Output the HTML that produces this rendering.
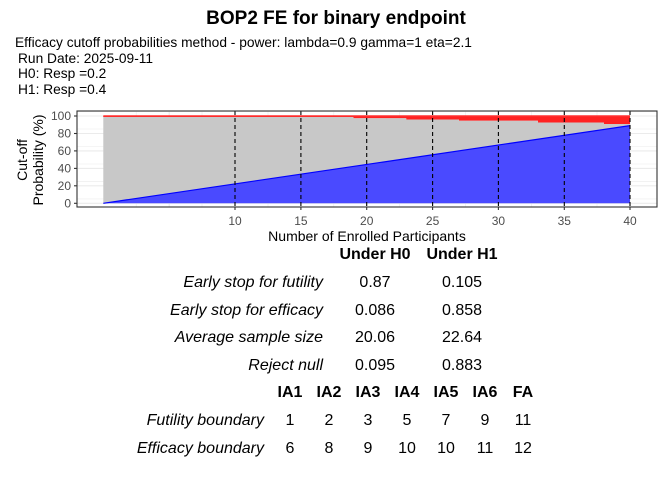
<!DOCTYPE html>
<html><head><meta charset="utf-8"><style>
html,body{margin:0;padding:0;background:#fff;}
svg{display:block;font-family:"Liberation Sans",Arial,sans-serif;}
</style></head><body>
<svg width="672" height="480" viewBox="0 0 672 480" xmlns="http://www.w3.org/2000/svg">
<rect width="672" height="480" fill="#fff"/>
<text x="336" y="24" font-size="19" font-weight="bold" text-anchor="middle">BOP2 FE for binary endpoint</text>
<g font-size="13.75" fill="#000">
<text x="15" y="47">Efficacy cutoff probabilities method - power: lambda=0.9 gamma=1 eta=2.1</text>
<text x="18" y="63">Run Date: 2025-09-11</text>
<text x="18" y="78">H0: Resp =0.2</text>
<text x="18" y="94">H1: Resp =0.4</text>
</g>
<g stroke="#ebebeb" stroke-width="0.6">
<line x1="77" x2="657" y1="198.9" y2="198.9"/><line x1="77" x2="657" y1="181.4" y2="181.4"/><line x1="77" x2="657" y1="164" y2="164"/><line x1="77" x2="657" y1="146.5" y2="146.5"/><line x1="77" x2="657" y1="129" y2="129"/><line x1="77" x2="657" y1="111.6" y2="111.6"/>
<line y1="111" y2="207" x1="136.2" x2="136.2"/><line y1="111" y2="207" x1="202" x2="202"/><line y1="111" y2="207" x1="268" x2="268"/><line y1="111" y2="207" x1="333.8" x2="333.8"/><line y1="111" y2="207" x1="399.7" x2="399.7"/><line y1="111" y2="207" x1="465.5" x2="465.5"/><line y1="111" y2="207" x1="531.4" x2="531.4"/><line y1="111" y2="207" x1="597" x2="597"/>
</g>
<g stroke="#ebebeb" stroke-width="1.1">
<line x1="77" x2="657" y1="203.3" y2="203.3"/><line x1="77" x2="657" y1="185.8" y2="185.8"/><line x1="77" x2="657" y1="168.4" y2="168.4"/><line x1="77" x2="657" y1="150.9" y2="150.9"/><line x1="77" x2="657" y1="133.5" y2="133.5"/><line x1="77" x2="657" y1="116" y2="116"/>
<line y1="111" y2="207" x1="169.2" x2="169.2"/><line y1="111" y2="207" x1="235" x2="235"/><line y1="111" y2="207" x1="300.9" x2="300.9"/><line y1="111" y2="207" x1="366.7" x2="366.7"/><line y1="111" y2="207" x1="432.6" x2="432.6"/><line y1="111" y2="207" x1="498.4" x2="498.4"/><line y1="111" y2="207" x1="564.3" x2="564.3"/><line y1="111" y2="207" x1="630" x2="630"/>
</g>
<polygon points="103.3,116 630,116 630,124 603.8,124 603.8,122.5 537.9,122.5 537.9,120.8 458.9,120.8 458.9,119.5 406.2,119.5 406.2,118.2 353.5,118.2 353.5,117.05 274.5,117.05 274.5,117 103.3,117" fill="#f22"/>
<polygon points="103.3,117 274.5,117 274.5,117.05 353.5,117.05 353.5,118.2 406.2,118.2 406.2,119.5 458.9,119.5 458.9,120.8 537.9,120.8 537.9,122.5 603.8,122.5 603.8,124 630,124 630,125.6 103.3,203.3" fill="#c8c8c8"/>
<polygon points="103.3,203.3 630,125.6 630,203.3" fill="#4a4aff"/>
<line x1="103.3" y1="203.3" x2="630" y2="125.6" stroke="#0000ff" stroke-width="1.2"/>
<line x1="103.3" y1="116" x2="630" y2="116" stroke="#ff3030" stroke-width="1.5"/>
<g stroke="#000" stroke-width="1.1" stroke-dasharray="4,3">
<line x1="235" x2="235" y1="111" y2="207"/><line x1="300.9" x2="300.9" y1="111" y2="207"/><line x1="366.7" x2="366.7" y1="111" y2="207"/><line x1="432.6" x2="432.6" y1="111" y2="207"/><line x1="498.4" x2="498.4" y1="111" y2="207"/><line x1="564.3" x2="564.3" y1="111" y2="207"/><line x1="630" x2="630" y1="111" y2="207"/>
</g>
<rect x="77" y="111" width="580" height="96" fill="none" stroke="#333" stroke-width="1.1"/>
<g stroke="#333" stroke-width="1.1">
<line x1="74" x2="77" y1="203.3" y2="203.3"/><line x1="74" x2="77" y1="185.8" y2="185.8"/><line x1="74" x2="77" y1="168.4" y2="168.4"/><line x1="74" x2="77" y1="150.9" y2="150.9"/><line x1="74" x2="77" y1="133.5" y2="133.5"/><line x1="74" x2="77" y1="116" y2="116"/>
<line y1="207" y2="210" x1="235" x2="235"/><line y1="207" y2="210" x1="300.9" x2="300.9"/><line y1="207" y2="210" x1="366.7" x2="366.7"/><line y1="207" y2="210" x1="432.6" x2="432.6"/><line y1="207" y2="210" x1="498.4" x2="498.4"/><line y1="207" y2="210" x1="564.3" x2="564.3"/><line y1="207" y2="210" x1="630" x2="630"/>
</g>
<g font-size="12" fill="#4d4d4d" text-anchor="end">
<text x="71" y="207.5">0</text><text x="71" y="190">20</text><text x="71" y="172.6">40</text><text x="71" y="155.1">60</text><text x="71" y="137.7">80</text><text x="71" y="120.2">100</text>
</g>
<g font-size="12" fill="#4d4d4d" text-anchor="middle">
<text x="235" y="225">10</text><text x="300.9" y="225">15</text><text x="366.7" y="225">20</text><text x="432.6" y="225">25</text><text x="498.4" y="225">30</text><text x="564.3" y="225">35</text><text x="630" y="225">40</text>
</g>
<text x="367" y="241" font-size="14" text-anchor="middle">Number of Enrolled Participants</text>
<g font-size="14" text-anchor="middle">
<text transform="translate(27,160) rotate(-90)">Cut-off</text>
<text transform="translate(43,160) rotate(-90)">Probability (%)</text>
</g>
<g font-size="16">
<text x="375" y="259" font-weight="bold" text-anchor="middle">Under H0</text>
<text x="462" y="259" font-weight="bold" text-anchor="middle">Under H1</text>
<g font-style="italic" text-anchor="end">
<text x="323" y="287">Early stop for futility</text>
<text x="323" y="315">Early stop for efficacy</text>
<text x="323" y="342">Average sample size</text>
<text x="323" y="370">Reject null</text>
</g>
<g text-anchor="middle">
<text x="375" y="287">0.87</text><text x="462" y="287">0.105</text>
<text x="375" y="315">0.086</text><text x="462" y="315">0.858</text>
<text x="375" y="342">20.06</text><text x="462" y="342">22.64</text>
<text x="375" y="370">0.095</text><text x="462" y="370">0.883</text>
</g>
<g font-weight="bold" text-anchor="middle">
<text x="290" y="397">IA1</text><text x="329" y="397">IA2</text><text x="368" y="397">IA3</text><text x="407" y="397">IA4</text><text x="446" y="397">IA5</text><text x="485" y="397">IA6</text><text x="523" y="397">FA</text>
</g>
<g font-style="italic" text-anchor="end">
<text x="264" y="425">Futility boundary</text>
<text x="264" y="453">Efficacy boundary</text>
</g>
<g text-anchor="middle">
<text x="290" y="425">1</text><text x="329" y="425">2</text><text x="368" y="425">3</text><text x="407" y="425">5</text><text x="446" y="425">7</text><text x="485" y="425">9</text><text x="523" y="425">11</text>
<text x="290" y="453">6</text><text x="329" y="453">8</text><text x="368" y="453">9</text><text x="407" y="453">10</text><text x="446" y="453">10</text><text x="485" y="453">11</text><text x="523" y="453">12</text>
</g>
</g>
</svg>
</body></html>
